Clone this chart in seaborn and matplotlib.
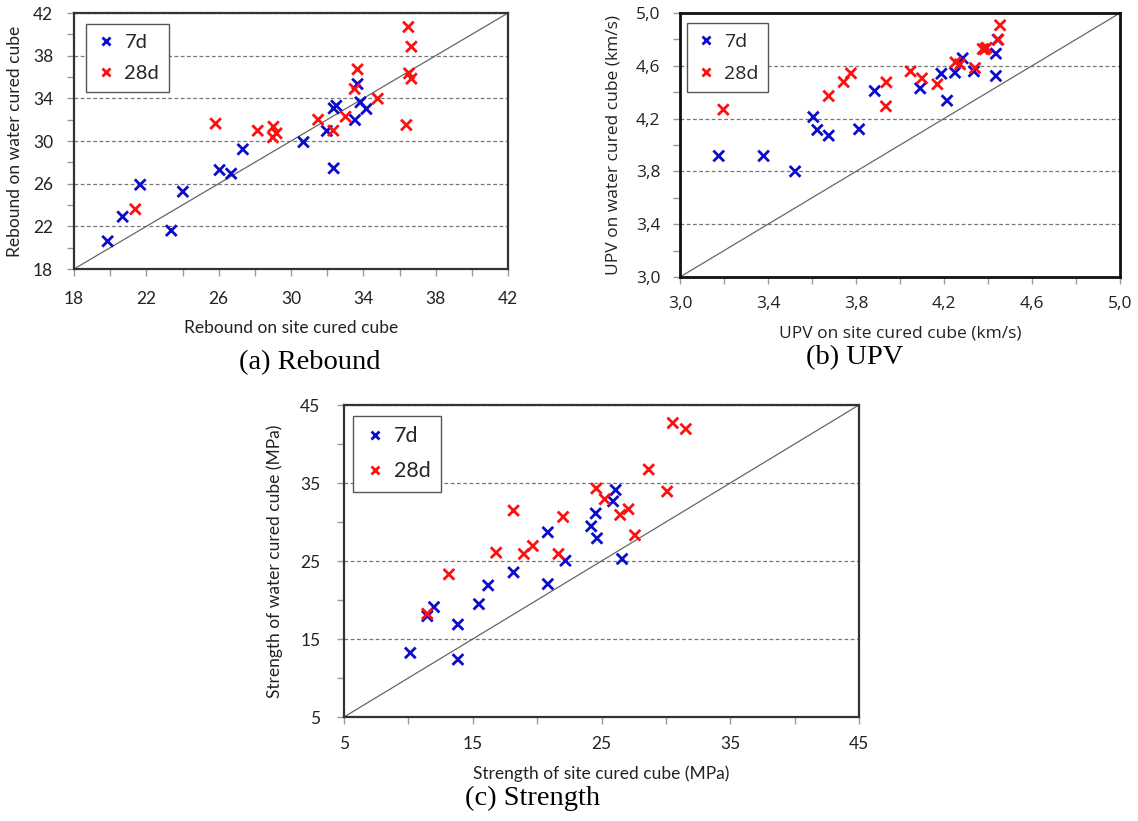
import numpy as np
import pandas as pd
import matplotlib
matplotlib.use("Agg")
import matplotlib.pyplot as plt
import matplotlib.ticker as mticker
import seaborn as sns

# (a) Rebound
rebound_site_7d = [19.86, 20.69, 21.66, 23.38, 24.02, 26.05, 26.69, 27.34, 30.69, 31.98,
                   32.36, 32.51, 32.36, 33.54, 33.68, 33.84, 34.17]
rebound_water_7d = [20.6, 22.9, 25.9, 21.6, 25.25, 27.28, 26.94, 29.22, 29.9, 30.94,
                    33.06, 33.31, 27.44, 31.97, 35.34, 33.63, 33.0]
rebound_site_28d = [21.39, 25.83, 28.16, 29.03, 29.2, 29.0, 31.5, 32.34, 33.02, 33.52,
                    33.68, 34.8, 36.38, 36.49, 36.66, 36.53, 36.66]
rebound_water_28d = [23.6, 31.63, 30.97, 31.34, 30.72, 30.34, 32.0, 30.97, 32.28, 34.88,
                     36.72, 33.97, 31.5, 40.69, 38.84, 36.34, 35.84]

# (b) UPV
upv_site_7d = [3.176, 3.38, 3.523, 3.606, 3.624, 3.676, 3.814, 3.885, 4.092, 4.188,
               4.214, 4.25, 4.285, 4.336, 4.436, 4.436, 4.444]
upv_water_7d = [3.917, 3.917, 3.80, 4.212, 4.114, 4.071, 4.119, 4.409, 4.429, 4.54,
                4.336, 4.548, 4.657, 4.558, 4.523, 4.692, 4.798]
upv_site_28d = [3.197, 3.676, 3.744, 3.777, 3.936, 3.938, 4.048, 4.10, 4.17, 4.252,
                4.273, 4.341, 4.376, 4.394, 4.385, 4.447, 4.455]
upv_water_28d = [4.268, 4.371, 4.477, 4.543, 4.293, 4.475, 4.558, 4.505, 4.46, 4.626,
                 4.611, 4.583, 4.727, 4.737, 4.725, 4.798, 4.907]

# (c) Strength
str_site_7d = [10.15, 11.47, 11.99, 13.85, 13.85, 15.48, 16.2, 18.17, 20.83, 20.83,
               22.2, 24.2, 24.55, 24.65, 25.9, 26.1, 26.6]
str_water_7d = [13.22, 17.93, 19.09, 16.86, 12.37, 19.47, 21.87, 23.54, 22.04, 28.68,
                25.04, 29.45, 31.1, 27.91, 32.65, 34.1, 25.26]
str_site_28d = [11.47, 13.15, 16.82, 18.17, 18.97, 19.67, 21.66, 22.02, 24.6, 25.25,
                26.45, 27.1, 27.6, 28.67, 30.1, 30.54, 31.55]
str_water_28d = [18.23, 23.29, 26.07, 31.47, 25.9, 26.93, 25.9, 30.65, 34.3, 32.92,
                 30.91, 31.64, 28.3, 36.73, 33.91, 42.69, 41.92]

AGES = ["7d", "28d"]
PALETTE = {"7d": "#0B0BCC", "28d": "#FF1010"}


def make_df(s7, w7, s28, w28):
    return pd.DataFrame({
        "site": s7 + s28,
        "water": w7 + w28,
        "Age": ["7d"] * len(s7) + ["28d"] * len(s28),
    })


def draw_panel(fig, rect, df, lims, major, minor, xlabel, ylabel, caption, font,
               fmt=None, leg_anchor=(0.02, 0.96), spine_lw=1.6, spine_col="#333333",
               tick_fs=12.5, label_fs=12.5, xpad=9, ypad=9, leg_fs=14.5,
               xlab_y=-0.2, ylab_x=-0.14, cap_xy=(0.5, 0.0)):
    ax = fig.add_axes(rect)
    lo, hi = lims
    ax.plot([lo, hi], [lo, hi], color="#666666", lw=0.9, zorder=1)
    sns.scatterplot(data=df, x="site", y="water", hue="Age", hue_order=AGES,
                    palette=PALETTE, marker="x", s=60, linewidth=2.0, ax=ax, zorder=3)
    ax.set_xlim(lo, hi)
    ax.set_ylim(lo, hi)
    for axis in (ax.xaxis, ax.yaxis):
        axis.set_major_locator(mticker.MultipleLocator(major, offset=lo))
        axis.set_minor_locator(mticker.MultipleLocator(minor, offset=lo))
        if fmt is not None:
            axis.set_major_formatter(mticker.FuncFormatter(fmt))
    ax.tick_params(which="both", direction="out", length=5, width=1, color="#999999",
                   bottom=True, left=True, top=False, right=False,
                   labelsize=tick_fs, labelcolor="#222222")
    ax.tick_params(axis="x", which="major", pad=xpad)
    ax.tick_params(axis="y", which="major", pad=ypad)
    for lab in ax.get_xticklabels() + ax.get_yticklabels():
        lab.set_fontfamily(font)
    ax.grid(False)
    ax.yaxis.grid(True, which="major", color="#777777", linestyle=(0, (3, 2)), lw=0.9)
    ax.set_axisbelow(True)
    for sp in ax.spines.values():
        sp.set_visible(True)
        sp.set_color(spine_col)
        sp.set_linewidth(spine_lw)
    ax.set_xlabel(xlabel, fontsize=label_fs, family=font, color="#222222")
    ax.set_ylabel(ylabel, fontsize=label_fs, family=font, color="#222222")
    ax.xaxis.set_label_coords(0.5, xlab_y)
    ax.yaxis.set_label_coords(ylab_x, 0.5)
    ax.xaxis.label.set_verticalalignment("center")
    ax.yaxis.label.set_verticalalignment("center")

    handles, labels = ax.get_legend_handles_labels()
    leg = ax.legend(handles, labels, loc="upper left", bbox_to_anchor=leg_anchor,
                    borderaxespad=0, frameon=True, fancybox=False, framealpha=1,
                    edgecolor="#555555", prop={"family": font, "size": leg_fs},
                    labelspacing=0.7, borderpad=0.5, handletextpad=0.4,
                    handlelength=1.0, markerscale=0.75)
    leg.get_frame().set_linewidth(1.0)
    leg.set_zorder(5)
    fig.text(cap_xy[0], cap_xy[1], caption, ha="center", va="center",
             family="Liberation Serif", fontsize=20.5, color="black")
    return ax


sns.set_theme(style="white")
plt.rcParams["font.family"] = ["Lato", "DejaVu Sans"]

fig = plt.figure(figsize=(11.38, 8.21), dpi=100)
W, H = 1138, 821


def rect(x0, y0, x1, y1):
    return [x0 / W, 1 - y1 / H, (x1 - x0) / W, (y1 - y0) / H]


df_a = make_df(rebound_site_7d, rebound_water_7d, rebound_site_28d, rebound_water_28d)
draw_panel(fig, rect(74, 13, 508, 269), df_a, (18, 42), 4, 2,
           "Rebound on site cured cube", "Rebound on water cured cube", "(a) Rebound",
           "Lato", leg_anchor=(0.028, 0.957), xpad=11, ypad=10,
           xlab_y=-0.23, ylab_x=-0.136, cap_xy=(310 / W, 1 - 363 / H))

df_b = make_df(upv_site_7d, upv_water_7d, upv_site_28d, upv_water_28d)
draw_panel(fig, rect(680, 13, 1120, 277), df_b, (3.0, 5.0), 0.4, 0.2,
           "UPV on site cured cube (km/s)", "UPV on water cured cube (km/s)", "(b) UPV",
           "Open Sans", fmt=lambda v, p: f"{v:.1f}".replace(".", ","),
           leg_anchor=(0.016, 0.961), spine_lw=2.0, spine_col="#111111",
           tick_fs=12.5, label_fs=12.5, xpad=9, ypad=9, leg_fs=14,
           xlab_y=-0.213, ylab_x=-0.152, cap_xy=(855 / W, 1 - 358 / H))

df_c = make_df(str_site_7d, str_water_7d, str_site_28d, str_water_28d)
draw_panel(fig, rect(344, 405, 859, 717), df_c, (5, 45), 10, 5,
           "Strength of site cured cube (MPa)", "Strength of water cured cube (MPa)",
           "(c) Strength", "Lato", leg_anchor=(0.0175, 0.966), xpad=9, ypad=12,
           leg_fs=15.5,
           xlab_y=-0.181, ylab_x=-0.134, cap_xy=(533 / W, 1 - 798 / H))

fig.savefig("out.png", dpi=100)
